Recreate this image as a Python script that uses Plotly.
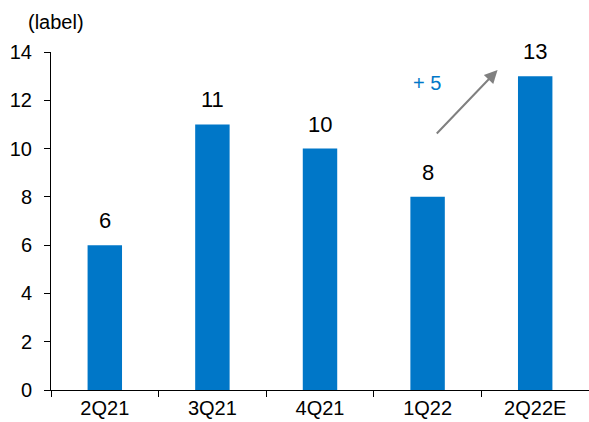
import plotly.graph_objects as go

categories = ["2Q21", "3Q21", "4Q21", "1Q22", "2Q22E"]
values = [6, 11, 10, 8, 13]
y_ticks = [0, 2, 4, 6, 8, 10, 12, 14]
unit_label = "(label)"
delta_label = "+ 5"

BAR = "#0077C8"
FONT = "Liberation Sans, Arial, sans-serif"

fig = go.Figure()
fig.add_trace(go.Bar(x=categories, y=values, marker=dict(color=BAR, line=dict(width=0)),
                     width=0.32, hoverinfo="skip"))

for c, v in zip(categories, values):
    fig.add_annotation(x=c, y=v, text=str(v), showarrow=False, yanchor="bottom",
                       yshift=10, font=dict(size=22, color="#000000", family=FONT))

# growth arrow
fig.add_annotation(x=3.65, y=13.25, ax=3.072, ay=10.56, xref="x", yref="y",
                   axref="x", ayref="y", text="", showarrow=True, arrowhead=2,
                   arrowsize=1.3, arrowwidth=2, arrowcolor="#808080", standoff=0)
fig.add_annotation(x=2.99, y=12.72, text=delta_label, showarrow=False,
                   font=dict(size=20, color=BAR, family=FONT))

fig.add_annotation(x=(56 - 51) / 538, y=1 + (52 - 22) / 338, xref="paper", yref="paper",
                   text=unit_label, showarrow=False, xanchor="center", yanchor="middle",
                   font=dict(size=20, color="#000000", family=FONT))

fig.update_layout(
    width=589, height=422,
    margin=dict(l=51, r=0, t=52, b=32),
    plot_bgcolor="white", paper_bgcolor="white",
    showlegend=False,
    font=dict(family=FONT, size=20, color="#000000"),
)
fig.update_xaxes(type="category", showline=True, linecolor="#000000", linewidth=1,
                 ticks="outside", ticklen=6, tickcolor="#000000", tickson="boundaries",
                 showgrid=False, tickfont=dict(size=20), range=[-0.5, 4.5])
fig.update_yaxes(range=[0, 14], tickvals=y_ticks, showline=True, linecolor="#000000",
                 linewidth=1, ticks="outside", ticklen=6, tickcolor="#000000",
                 ticklabelstandoff=8,
                 showgrid=False, zeroline=False, tickfont=dict(size=20))

fig.write_html("out.html")
